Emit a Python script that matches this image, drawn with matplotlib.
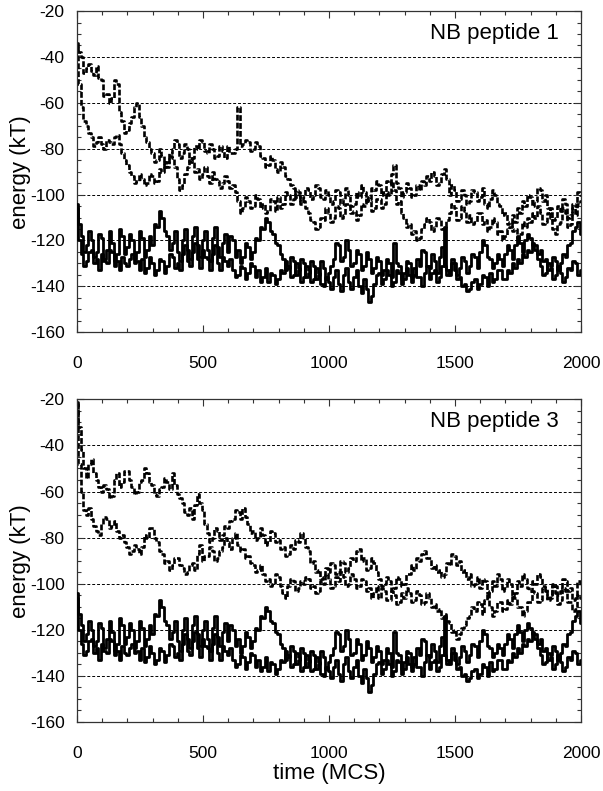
import numpy as np
import matplotlib.pyplot as plt
from matplotlib.ticker import MultipleLocator

plt.rcParams['font.family'] = ['Liberation Sans', 'DejaVu Sans']
plt.rcParams['axes.unicode_minus'] = False   # guion simple como en el original

# ---------------------------
# Datos (energia cada 10 MCS)
# ---------------------------
time_mcs = np.arange(0, 2001, 10)

# trazas continuas (iguales en los dos paneles), una fila = 200 MCS
solid_a = [-104, -113, -118, -125, -122, -116, -120, -127, -125, -117, -119, -128, -124, -116, -121, -129, -126, -115, -118, -126,
           -123, -117, -120, -128, -125, -116, -119, -127, -124, -118, -122, -113, -114, -107, -110, -116, -118, -124, -121, -116,
           -125, -129, -120, -115, -124, -128, -118, -114, -122, -127, -120, -116, -124, -129, -119, -114, -123, -127, -121, -117,
           -125, -118, -120, -127, -124, -130, -127, -121, -123, -128, -125, -119, -120, -114, -115, -110, -112, -116, -117, -121,
           -122, -126, -128, -133, -132, -127, -129, -135, -133, -128, -130, -136, -134, -129, -131, -137, -135, -129, -132, -137,
           -134, -131, -128, -121, -122, -129, -127, -120, -124, -131, -130, -124, -126, -133, -131, -125, -128, -134, -132, -127,
           -129, -135, -133, -128, -130, -136, -121, -130, -131, -137, -134, -129, -130, -136, -135, -128, -131, -124, -125, -131,
           -132, -126, -129, -134, -127, -123, -131, -135, -133, -128, -130, -135, -132, -127, -129, -134, -131, -126, -127, -132,
           -125, -120, -122, -127, -128, -132, -130, -126, -128, -131, -126, -122, -124, -128, -122, -118, -121, -125, -120, -117,
           -119, -122, -124, -128, -131, -135, -134, -130, -131, -127, -129, -133, -130, -126, -127, -122, -121, -116, -114, -112,
           -117]
solid_b = [-106, -120, -126, -131, -129, -125, -124, -130, -128, -133, -126, -129, -130, -124, -125, -131, -129, -133, -127, -130,
           -131, -128, -126, -130, -129, -133, -128, -134, -132, -127, -130, -135, -133, -128, -129, -134, -131, -126, -127, -132,
           -130, -133, -126, -122, -129, -131, -125, -121, -128, -132, -124, -127, -128, -133, -126, -122, -130, -133, -127, -129,
           -131, -128, -133, -136, -135, -131, -132, -137, -134, -130, -131, -136, -133, -138, -136, -132, -138, -134, -135, -139,
           -137, -133, -134, -129, -131, -136, -135, -130, -132, -138, -136, -131, -133, -138, -137, -132, -134, -139, -140, -136,
           -138, -141, -136, -133, -139, -142, -135, -132, -138, -141, -136, -133, -140, -143, -137, -141, -147, -144, -139, -135,
           -134, -139, -137, -133, -135, -140, -138, -133, -134, -139, -137, -132, -135, -138, -132, -136, -136, -140, -134, -131,
           -137, -134, -133, -138, -136, -131, -114, -133, -135, -130, -133, -137, -136, -140, -139, -142, -141, -138, -137, -141,
           -139, -135, -136, -140, -134, -138, -137, -133, -133, -137, -137, -133, -134, -130, -132, -128, -130, -126, -127, -124,
           -125, -121, -122, -126, -124, -129, -128, -133, -132, -137, -135, -131, -134, -138, -136, -132, -133, -129, -130, -135,
           -133]

# NB peptide 1 (discontinuas)
p1_a = [-34, -38, -40, -47, -45, -43, -46, -48, -44, -49, -50, -57, -56, -60, -58, -50, -52, -64, -68, -73,
        -72, -69, -66, -62, -60, -66, -70, -75, -77, -80, -82, -86, -85, -80, -83, -88, -86, -82, -80, -76,
        -78, -84, -82, -78, -80, -86, -84, -79, -80, -76, -77, -81, -82, -78, -80, -84, -83, -79, -81, -84,
        -79, -82, -82, -80, -62, -79, -78, -76, -77, -81, -80, -77, -79, -83, -84, -88, -87, -83, -85, -89,
        -90, -86, -88, -92, -93, -96, -97, -101, -100, -104, -103, -106, -108, -111, -112, -115, -114, -110, -111, -106,
        -108, -112, -110, -105, -106, -110, -109, -104, -104, -108, -107, -111, -109, -104, -105, -101, -103, -107, -106, -102,
        -102, -106, -104, -99, -100, -94, -98, -104, -103, -108, -110, -114, -113, -117, -116, -120, -119, -115, -113, -110,
        -112, -116, -114, -110, -111, -115, -114, -111, -108, -104, -106, -111, -110, -105, -107, -112, -109, -113, -112, -108,
        -108, -113, -111, -116, -114, -110, -112, -117, -116, -120, -118, -115, -114, -109, -112, -106, -108, -103, -105, -100,
        -101, -105, -103, -97, -98, -103, -100, -106, -110, -115, -117, -113, -112, -106, -108, -114, -113, -106, -109, -104,
        -103]
p1_b = [-36, -52, -62, -68, -70, -73, -75, -79, -77, -75, -78, -80, -76, -77, -78, -75, -74, -78, -82, -85,
        -87, -90, -92, -95, -94, -91, -93, -96, -95, -91, -92, -95, -94, -89, -90, -86, -88, -83, -84, -88,
        -93, -98, -96, -91, -88, -84, -86, -90, -89, -93, -91, -88, -92, -95, -90, -93, -94, -97, -95, -92,
        -94, -97, -96, -99, -103, -108, -106, -101, -103, -106, -105, -100, -102, -106, -104, -108, -107, -102, -103, -107,
        -101, -106, -104, -99, -100, -104, -102, -98, -99, -103, -101, -97, -98, -102, -100, -96, -97, -101, -102, -98,
        -100, -104, -103, -98, -99, -104, -102, -97, -100, -105, -104, -99, -101, -96, -99, -103, -102, -97, -98, -94,
        -96, -100, -99, -94, -95, -91, -87, -95, -97, -101, -99, -95, -97, -101, -100, -96, -98, -94, -96, -92,
        -94, -90, -92, -96, -95, -91, -89, -93, -100, -96, -98, -103, -102, -98, -100, -104, -103, -98, -99, -103,
        -101, -97, -104, -106, -102, -98, -100, -104, -105, -109, -108, -113, -112, -116, -115, -119, -117, -112, -114, -110,
        -112, -108, -110, -105, -108, -113, -112, -108, -106, -111, -110, -105, -107, -102, -104, -110, -109, -104, -105, -99,
        -100]

# NB peptide 3 (discontinuas)
p3_a = [-21, -32, -42, -50, -54, -48, -46, -52, -55, -58, -60, -57, -59, -63, -62, -55, -52, -58, -56, -51,
        -51, -55, -58, -61, -60, -56, -55, -50, -52, -56, -57, -61, -62, -59, -58, -54, -56, -59, -52, -57,
        -61, -63, -65, -69, -70, -67, -72, -66, -61, -65, -68, -74, -78, -82, -80, -76, -77, -81, -79, -75,
        -76, -73, -72, -68, -69, -72, -67, -71, -74, -78, -77, -81, -80, -76, -79, -83, -82, -77, -78, -82,
        -81, -85, -84, -88, -87, -83, -85, -81, -82, -78, -80, -84, -86, -91, -90, -95, -94, -98, -97, -93,
        -95, -91, -92, -96, -95, -90, -91, -95, -93, -89, -90, -86, -85, -90, -89, -94, -93, -89, -91, -95,
        -98, -101, -100, -97, -99, -103, -102, -97, -98, -101, -100, -96, -96, -92, -94, -89, -90, -87, -86, -89,
        -89, -93, -92, -95, -94, -97, -96, -91, -92, -87, -88, -92, -90, -95, -94, -98, -96, -101, -100, -97,
        -102, -98, -99, -104, -103, -99, -101, -96, -98, -103, -102, -98, -100, -105, -104, -99, -101, -96, -98, -102,
        -103, -99, -100, -96, -97, -101, -102, -106, -105, -100, -101, -105, -103, -98, -99, -103, -102, -107, -106, -99,
        -101]
p3_b = [-22, -48, -60, -68, -70, -67, -72, -75, -77, -79, -74, -71, -72, -76, -75, -73, -77, -80, -79, -82,
        -84, -87, -86, -83, -85, -87, -84, -79, -80, -76, -76, -80, -82, -86, -87, -91, -90, -94, -92, -89,
        -89, -92, -93, -96, -95, -92, -91, -94, -87, -83, -90, -88, -88, -84, -86, -90, -89, -86, -84, -80,
        -82, -85, -80, -78, -83, -86, -85, -89, -88, -91, -92, -95, -94, -92, -96, -99, -98, -101, -100, -96,
        -97, -101, -104, -106, -101, -98, -99, -103, -102, -99, -100, -97, -98, -102, -101, -104, -103, -99, -100, -96,
        -98, -102, -101, -97, -99, -95, -97, -101, -100, -96, -98, -102, -101, -98, -99, -103, -102, -106, -104, -101,
        -106, -102, -103, -107, -107, -103, -105, -109, -108, -104, -106, -102, -104, -108, -107, -103, -105, -109, -108, -104,
        -106, -110, -109, -112, -111, -115, -113, -116, -117, -121, -120, -124, -122, -119, -118, -115, -114, -110, -112, -108,
        -109, -113, -107, -104, -110, -114, -112, -108, -108, -112, -111, -107, -109, -105, -106, -110, -110, -114, -112, -108,
        -108, -103, -104, -108, -107, -102, -103, -107, -106, -101, -104, -109, -107, -102, -103, -108, -108, -112, -111, -105,
        -106]

paneles = [("NB peptide 1", p1_a, p1_b), ("NB peptide 3", p3_a, p3_b)]
niveles_ref = [-40, -60, -80, -100, -120, -140]

# ---------------------------
# Figura
# ---------------------------
fig = plt.figure(figsize=(6.03, 7.91), dpi=100)
ax_top = fig.add_axes([0.1277, 0.580, 0.836, 0.406])
ax_bot = fig.add_axes([0.1277, 0.0872, 0.836, 0.408])

for ax, (titulo, dash_a, dash_b) in zip((ax_top, ax_bot), paneles):
    # lineas horizontales de referencia
    ax.hlines(niveles_ref, 20, 1985, colors='black', linestyles=(0, (3, 2)),
              linewidth=0.7, zorder=1)

    dash_style = (0, (2.2, 0.8))
    ax.plot(time_mcs, dash_a, color='black', lw=1.9, ls=dash_style,
            drawstyle='steps-mid', zorder=2)
    ax.plot(time_mcs, dash_b, color='black', lw=1.9, ls=dash_style,
            drawstyle='steps-mid', zorder=2)
    ax.plot(time_mcs, solid_a, color='black', lw=2.0, drawstyle='steps-mid', zorder=3)
    ax.plot(time_mcs, solid_b, color='black', lw=2.0, drawstyle='steps-mid', zorder=3)

    ax.set_xlim(0, 2000)
    ax.set_ylim(-160, -20)
    ax.xaxis.set_major_locator(MultipleLocator(500))
    ax.xaxis.set_minor_locator(MultipleLocator(100))
    ax.yaxis.set_major_locator(MultipleLocator(20))
    ax.yaxis.set_minor_locator(MultipleLocator(5))
    ax.tick_params(which='both', direction='in', top=True, right=True,
                   width=0.8, colors='#333333')
    ax.tick_params(which='major', length=5)
    ax.tick_params(which='minor', length=3)
    ax.tick_params(axis='x', pad=17, labelsize=12.5, labelcolor='black')
    ax.tick_params(axis='y', pad=9, labelsize=12.5, labelcolor='black')
    for s in ax.spines.values():
        s.set_linewidth(0.9)
        s.set_color('#333333')

    ax.set_ylabel("energy (kT)", fontsize=16, labelpad=-1)
    ax.text(0.955, 0.93, titulo, transform=ax.transAxes, ha='right', va='center',
            fontsize=16)

ax_bot.set_xlabel("time (MCS)", fontsize=16, labelpad=2)

fig.savefig("out.png", dpi=100)
